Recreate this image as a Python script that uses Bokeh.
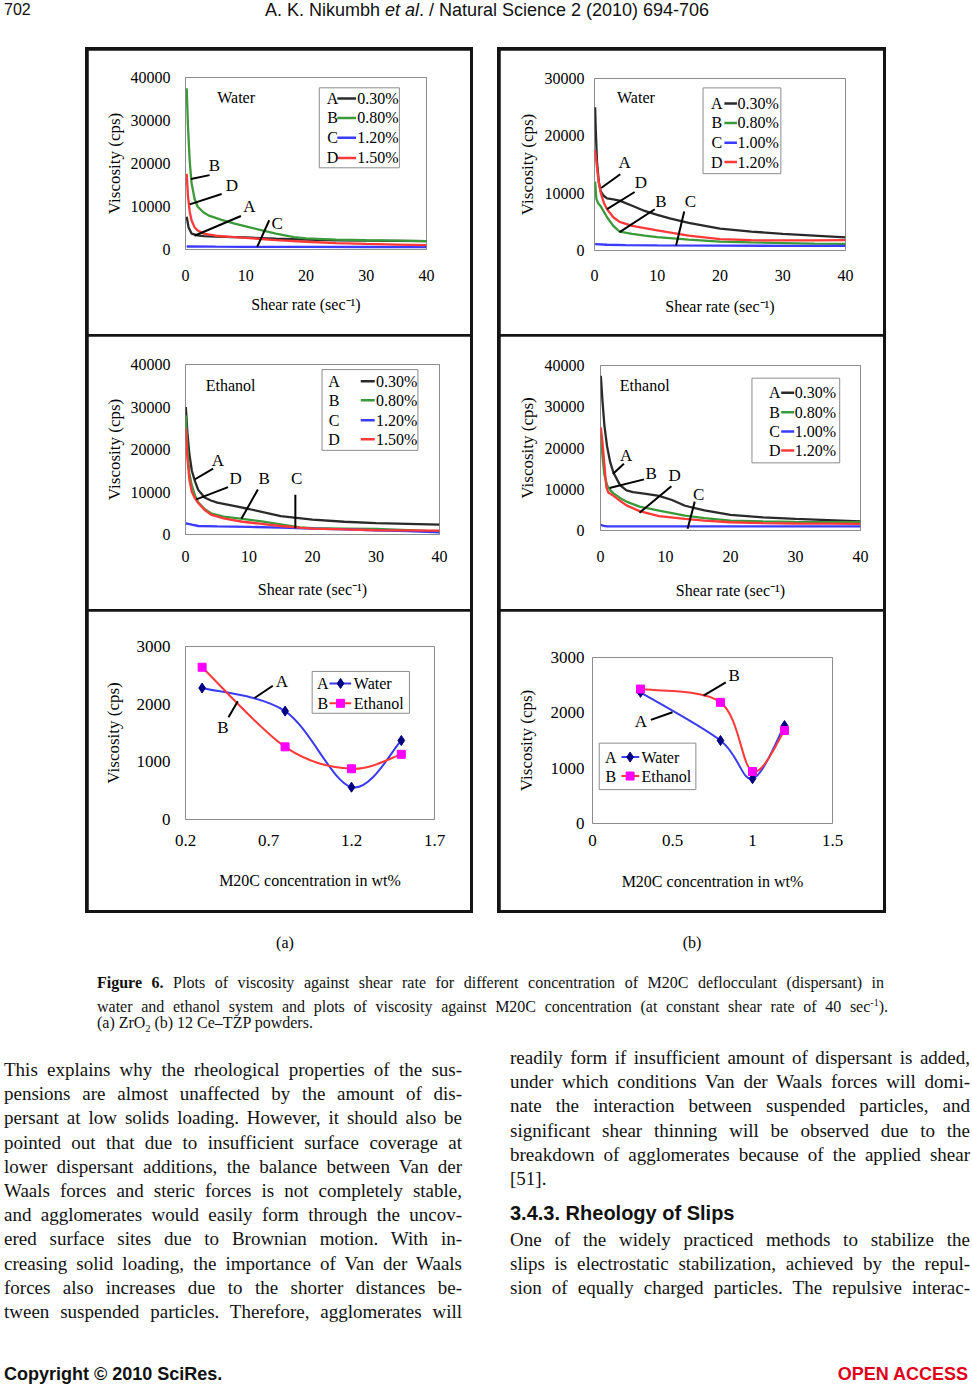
from bokeh.plotting import figure
from bokeh.layouts import column, row
from bokeh.models import Div, Spacer, Range1d, FixedTicker
from bokeh.core.properties import value
from bokeh.embed import file_html
from bokeh.resources import INLINE

SERIF = "Liberation Serif"
SANS = "Liberation Sans"

# ---------------- data ----------------
shear_ticks = [0, 10, 20, 30, 40]
shear_tick_labels = ["0", "10", "20", "30", "40"]
visc40_ticks = [0, 10000, 20000, 30000, 40000]
visc40_tick_labels = ["0", "10000", "20000", "30000", "40000"]
visc30_ticks = [0, 10000, 20000, 30000]
visc30_tick_labels = ["0", "10000", "20000", "30000"]
visc3_ticks = [0, 1000, 2000, 3000]
visc3_tick_labels = ["0", "1000", "2000", "3000"]
conc_a_ticks = [0.2, 0.7, 1.2, 1.7]
conc_a_tick_labels = ["0.2", "0.7", "1.2", "1.7"]
conc_b_ticks = [0, 0.5, 1, 1.5]
conc_b_tick_labels = ["0", "0.5", "1", "1.5"]

series_letters = ["A", "B", "C", "D"]
pct_a = ["0.30%", "0.80%", "1.20%", "1.50%"]
pct_b = ["0.30%", "0.80%", "1.00%", "1.20%"]

# (a) ZrO2 - water
p1_A_x = [0.2, 0.5, 1, 2, 3, 5, 8, 10, 15, 20, 25, 30, 35, 40]
p1_A_y = [7600, 5200, 3700, 3300, 3100, 3000, 2900, 2800, 2500, 2300, 2150, 2050, 2000, 1950]
p1_B_x = [0.2, 0.4, 0.7, 1, 1.5, 2, 3, 4, 6, 8, 10, 12, 15, 18, 20, 25, 30, 35, 40]
p1_B_y = [37500, 29000, 20500, 15500, 11800, 10000, 8600, 7800, 6900, 6100, 5400, 4700, 3700, 2900, 2600, 2300, 2150, 2050, 1950]
p1_C_x = [0.2, 5, 10, 20, 30, 40]
p1_C_y = [700, 650, 620, 600, 580, 550]
p1_D_x = [0.2, 0.4, 0.7, 1, 1.5, 2, 3, 5, 8, 10, 15, 20, 25, 30, 35, 40]
p1_D_y = [17600, 12500, 8800, 6800, 5200, 4400, 3700, 3200, 2900, 2700, 2200, 1800, 1500, 1300, 1150, 1000]

# (b) Ce-TZP - water
p2_A_x = [0.1, 0.2, 0.4, 0.7, 1, 1.5, 2, 3, 4, 6, 8, 10, 12, 15, 20, 25, 30, 35, 40]
p2_A_y = [25000, 21000, 15500, 11800, 10300, 9500, 9100, 8900, 8700, 7800, 6900, 6200, 5600, 4800, 3800, 3300, 2900, 2600, 2300]
p2_B_x = [0.1, 0.3, 0.6, 1, 2, 3, 4, 6, 8, 10, 15, 20, 25, 30, 35, 40]
p2_B_y = [12000, 9000, 8200, 7700, 5800, 4300, 3300, 2900, 2600, 2350, 1900, 1550, 1400, 1300, 1200, 1150]
p2_C_x = [0.1, 2, 5, 10, 20, 30, 40]
p2_C_y = [1100, 1000, 950, 900, 850, 820, 800]
p2_D_x = [0.1, 0.3, 0.6, 1, 1.5, 2, 3, 4, 6, 8, 10, 15, 20, 25, 30, 35, 40]
p2_D_y = [17500, 15500, 12500, 10000, 8300, 7200, 5800, 5000, 4300, 3900, 3500, 2600, 2000, 1800, 1750, 1750, 1800]

# (a) ZrO2 - ethanol
p3_A_x = [0.05, 0.3, 0.6, 1, 1.5, 2, 3, 4, 5, 8, 10, 15, 20, 25, 30, 35, 40]
p3_A_y = [30000, 24000, 19000, 15000, 12500, 10500, 8700, 8000, 7500, 6600, 6000, 4300, 3500, 3000, 2700, 2500, 2300]
p3_B_x = [0.05, 0.3, 0.6, 1, 1.5, 2, 3, 4, 6, 9, 12, 15, 18, 20, 25, 30, 35, 40]
p3_B_y = [28000, 20000, 14500, 11500, 9200, 7600, 6000, 5000, 4200, 3700, 3100, 2400, 1700, 1500, 1400, 1300, 1000, 700]
p3_C_x = [0.05, 1, 2, 5, 10, 15, 20, 25, 30, 35, 40]
p3_C_y = [2600, 2300, 2000, 1900, 1800, 1600, 1400, 1200, 1000, 800, 500]
p3_D_x = [0.05, 0.3, 0.6, 1, 1.5, 2, 3, 4, 6, 9, 12, 15, 18, 20, 25, 30, 35, 40]
p3_D_y = [25000, 18000, 13000, 10000, 8500, 7400, 5800, 4700, 3800, 3000, 2500, 2000, 1600, 1400, 1200, 1000, 950, 900]

# (b) Ce-TZP - ethanol
p4_A_x = [0.05, 0.3, 0.6, 1, 1.5, 2, 3, 4, 5, 7, 9, 11, 13, 16, 20, 25, 30, 35, 40]
p4_A_y = [37500, 31500, 25500, 20500, 16500, 14000, 11000, 9700, 9300, 8900, 8400, 7400, 6000, 4900, 3800, 3200, 2800, 2500, 2200]
p4_B_x = [0.05, 0.3, 0.6, 1, 1.5, 2, 3, 4, 6, 9, 13, 16, 20, 25, 30, 35, 40]
p4_B_y = [24000, 18000, 13500, 11000, 9800, 9000, 7900, 7000, 5800, 4800, 3600, 3000, 2400, 2200, 2100, 2050, 2000]
p4_C_x = [0.05, 0.5, 1, 5, 10, 20, 30, 40]
p4_C_y = [1400, 1100, 1000, 1000, 1000, 1000, 1000, 1000]
p4_D_x = [0.05, 0.3, 0.6, 0.9, 1.2, 2, 3, 4, 6, 9, 13, 16, 20, 25, 30, 35, 40]
p4_D_y = [25000, 21500, 16000, 10500, 9200, 8400, 7200, 6100, 4700, 3500, 2800, 2400, 2000, 1800, 1700, 1650, 1600]

# viscosity vs M20C concentration at 40 s^-1
conc_a = [0.3, 0.8, 1.2, 1.5]
water_a = [2280, 1880, 560, 1370]
ethanol_a = [2640, 1260, 880, 1130]
conc_b = [0.3, 0.8, 1.0, 1.2]
water_b = [2370, 1500, 810, 1770]
ethanol_b = [2430, 2190, 940, 1680]

# ---------------- styles ----------------
C_BLACK = "#2a2a2a"
C_GREEN = "#3a9a3a"
C_BLUE = "#3b3bff"
C_RED = "#ff3838"
SERIES_COLORS = [C_BLACK, C_GREEN, C_BLUE, C_RED]
FRAME_GRAY = "#8c8c8c"


def base_panel(w, h, g, xr, yr, xt, xtl, yt, ytl, xlab, ylab, tick_fs, xlab_fs=16, ylab_fs=17):
    p = figure(width=w, height=h, output_backend="svg", toolbar_location=None, title=None,
               x_range=Range1d(*xr), y_range=Range1d(*yr),
               min_border_left=g["l"], min_border_right=g["r"],
               min_border_top=g["t"], min_border_bottom=g["b"])
    p.margin = 0
    p.frame_align = False
    p.background_fill_color = "white"
    p.border_fill_color = "white"
    p.outline_line_color = FRAME_GRAY
    p.outline_line_width = 1
    p.grid.visible = False
    p.xaxis.ticker = FixedTicker(ticks=xt)
    p.yaxis.ticker = FixedTicker(ticks=yt)
    p.xaxis.major_label_overrides = {k: v for k, v in zip(xt, xtl)}
    p.yaxis.major_label_overrides = {k: v for k, v in zip(yt, ytl)}
    for ax in (p.xaxis, p.yaxis):
        ax.axis_line_color = None
        ax.major_tick_line_color = None
        ax.minor_tick_line_color = None
        ax.major_tick_out = 0
        ax.major_tick_in = 0
        ax.minor_tick_out = 0
        ax.minor_tick_in = 0
        ax.major_label_text_font = SERIF
        ax.major_label_text_font_size = f"{tick_fs}px"
        ax.major_label_text_color = "black"
        ax.axis_label_text_font = SERIF
        ax.axis_label_text_font_style = "normal"
        ax.axis_label_text_color = "black"
    p.xaxis.axis_label = xlab
    p.yaxis.axis_label = ylab
    p.xaxis.axis_label_text_font_size = f"{xlab_fs}px"
    p.yaxis.axis_label_text_font_size = f"{ylab_fs}px"
    wt = max(len(s) for s in ytl) * 0.5 * tick_fs
    p.yaxis.major_label_standoff = g["ytick_so"]
    p.yaxis.axis_label_standoff = max(0, round(g["ylab_gap"] - g["ytick_so"] - wt - 12))
    p.xaxis.major_label_standoff = max(0, round(g["xtick_gap"] - 0.33 * tick_fs))
    p.xaxis.axis_label_standoff = max(0, round(g["xlab_gap"] - g["xtick_gap"] - 1.06 * tick_fs))
    return p


def add_text(p, xs, ys, texts, fs, align="center", color="black"):
    p.text(x=xs, y=ys, text=texts, text_font=value(SERIF), text_font_size=value(f"{fs}px"),
           text_align=align, text_baseline="middle", text_color=color)


def add_leaders(p, leaders):
    p.segment(x0=[l[0] for l in leaders], y0=[l[1] for l in leaders],
              x1=[l[2] for l in leaders], y1=[l[3] for l in leaders],
              line_color="black", line_width=2)


def shear_panel(w, h, g, yt, ytl, series, pcts, lab, lab_pos, ann, leg):
    p = base_panel(w, h, g, (0, 40), (0, yt[-1]), shear_ticks, shear_tick_labels, yt, ytl,
                   "Shear rate (sec\u207b\u00b9)", "Viscosity (cps)", 16)
    for (xs, ys), col in zip(series, SERIES_COLORS):
        p.line(xs, ys, line_color=col, line_width=2.3)
    add_text(p, [lab_pos[0]], [lab_pos[1]], [lab], 16)
    add_leaders(p, [a[2] for a in ann])
    add_text(p, [a[1][0] for a in ann], [a[1][1] for a in ann], [a[0] for a in ann], 17)
    x0, x1, yb, yt_ = leg["box"]
    p.quad(left=[x0], right=[x1], bottom=[yb], top=[yt_], fill_color="white", line_color=FRAME_GRAY, line_width=1)
    rows = leg["rows"]
    p.segment(x0=[leg["line"][0]] * 4, x1=[leg["line"][1]] * 4, y0=rows, y1=rows,
              line_color=SERIES_COLORS, line_width=2.5)
    add_text(p, [leg["letter_x"]] * 4, rows, series_letters, 16)
    add_text(p, [leg["label_x"]] * 4, rows, pcts, 16, align="left")
    return p


def bezier_src(xs, ys):
    X = [xs[0]] + list(xs) + [xs[-1]]
    Y = [ys[0]] + list(ys) + [ys[-1]]
    d = dict(x0=[], y0=[], x1=[], y1=[], cx0=[], cy0=[], cx1=[], cy1=[])
    for i in range(len(xs) - 1):
        d["x0"].append(X[i + 1]); d["y0"].append(Y[i + 1])
        d["x1"].append(X[i + 2]); d["y1"].append(Y[i + 2])
        d["cx0"].append(X[i + 1] + (X[i + 2] - X[i]) / 6.0)
        d["cy0"].append(Y[i + 1] + (Y[i + 2] - Y[i]) / 6.0)
        d["cx1"].append(X[i + 2] - (X[i + 3] - X[i + 1]) / 6.0)
        d["cy1"].append(Y[i + 2] - (Y[i + 3] - Y[i + 1]) / 6.0)
    return d


def conc_panel(w, h, g, xr, xt, xtl, conc, water, ethanol, ann, leg):
    p = base_panel(w, h, g, xr, (0, 3000), xt, xtl, visc3_ticks, visc3_tick_labels,
                   "M20C concentration in wt%", "Viscosity (cps)", 17)
    p.bezier(line_color="#3b3bef", line_width=2, **bezier_src(conc, water))
    p.scatter(conc, water, marker="diamond", size=10, fill_color="#000080", line_color="#000080")
    p.bezier(line_color="#ff3838", line_width=2, **bezier_src(conc, ethanol))
    p.scatter(conc, ethanol, marker="square", size=8, fill_color="#ff00ff", line_color="#ff00ff")
    add_leaders(p, [a[2] for a in ann])
    add_text(p, [a[1][0] for a in ann], [a[1][1] for a in ann], [a[0] for a in ann], 17)
    x0, x1, yb, yt_ = leg["box"]
    p.quad(left=[x0], right=[x1], bottom=[yb], top=[yt_], fill_color="white", line_color=FRAME_GRAY, line_width=1)
    rows = leg["rows"]
    p.segment(x0=[leg["line"][0]] * 2, x1=[leg["line"][1]] * 2, y0=rows, y1=rows,
              line_color=["#3b3bef", "#ff3838"], line_width=2)
    p.scatter([leg["mark_x"]], [rows[0]], marker="diamond", size=10, fill_color="#000080", line_color="#000080")
    p.scatter([leg["mark_x"]], [rows[1]], marker="square", size=8, fill_color="#ff00ff", line_color="#ff00ff")
    add_text(p, [leg["letter_x"]] * 2, rows, ["A", "B"], 16)
    add_text(p, [leg["label_x"]] * 2, rows, ["Water", "Ethanol"], 16, align="left")
    return p


G1 = dict(l=97, r=44, t=27, b=85, ytick_so=15, ylab_gap=71, xtick_gap=25, xlab_gap=54)
G2 = dict(l=94, r=38, t=28, b=84, ytick_so=10, ylab_gap=67, xtick_gap=24, xlab_gap=55)
G3 = dict(l=97, r=31, t=28, b=75, ytick_so=15, ylab_gap=71, xtick_gap=21, xlab_gap=54)
G4 = dict(l=100, r=23, t=29, b=79, ytick_so=16, ylab_gap=73, xtick_gap=25, xlab_gap=59)
G5 = dict(l=97, r=36, t=35, b=91, ytick_so=15, ylab_gap=72, xtick_gap=21, xlab_gap=62)
G6 = dict(l=92, r=51, t=46, b=87, ytick_so=8, ylab_gap=66, xtick_gap=17, xlab_gap=59)

fig1 = shear_panel(382, 284, G1, visc40_ticks, visc40_tick_labels,
                   [(p1_A_x, p1_A_y), (p1_B_x, p1_B_y), (p1_C_x, p1_C_y), (p1_D_x, p1_D_y)], pct_a,
                   "Water", (8.4, 35300),
                   [("B", (4.8, 19600), (0.9, 16400, 4.0, 17300)),
                    ("D", (7.7, 14800), (0.7, 10500, 6.0, 12900)),
                    ("A", (10.6, 10100), (1.5, 3200, 9.2, 7800)),
                    ("C", (15.2, 6100), (11.9, 600, 13.9, 6800))],
                   dict(box=(22.2, 35.5, 19000, 37600), rows=[35100, 30600, 26000, 21300],
                        letter_x=24.4, line=(25.2, 28.3), label_x=28.5))

fig2 = shear_panel(383, 284, G2, visc30_ticks, visc30_tick_labels,
                   [(p2_A_x, p2_A_y), (p2_B_x, p2_B_y), (p2_C_x, p2_C_y), (p2_D_x, p2_D_y)], pct_b,
                   "Water", (6.6, 26600),
                   [("A", (4.8, 15300), (1.06, 10900, 4.1, 13300)),
                    ("D", (7.4, 11800), (2.0, 7200, 6.4, 10200)),
                    ("B", (10.6, 8600), (4.0, 3200, 9.6, 7200)),
                    ("C", (15.3, 8600), (13.0, 870, 14.3, 6800))],
                   dict(box=(17.3, 29.7, 13400, 28360), rows=[25630, 22250, 18810, 15430],
                        letter_x=19.5, line=(20.7, 22.7), label_x=22.8))

fig3 = shear_panel(382, 273, G3, visc40_ticks, visc40_tick_labels,
                   [(p3_A_x, p3_A_y), (p3_B_x, p3_B_y), (p3_C_x, p3_C_y), (p3_D_x, p3_D_y)], pct_a,
                   "Ethanol", (7.1, 35100),
                   [("A", (5.1, 17400), (1.5, 13000, 4.35, 15500)),
                    ("D", (7.9, 13100), (1.7, 8250, 6.7, 11150)),
                    ("B", (12.4, 13100), (8.8, 3700, 11.4, 10600)),
                    ("C", (17.5, 13100), (17.3, 1500, 17.3, 9350))],
                   dict(box=(21.5, 36.6, 19800, 38800), rows=[36060, 31580, 26870, 22390],
                        letter_x=23.4, line=(27.6, 29.8), label_x=30.0))

fig4 = shear_panel(383, 273, G4, visc40_ticks, visc40_tick_labels,
                   [(p4_A_x, p4_A_y), (p4_B_x, p4_B_y), (p4_C_x, p4_C_y), (p4_D_x, p4_D_y)], pct_b,
                   "Ethanol", (6.8, 35150),
                   [("A", (3.95, 18200), (1.9, 13700, 3.6, 16200)),
                    ("B", (7.8, 13700), (1.4, 10300, 6.7, 12400)),
                    ("D", (11.4, 13300), (6.0, 4300, 10.9, 10750)),
                    ("C", (15.1, 8650), (13.4, 400, 14.5, 7000))],
                   dict(box=(23.3, 36.8, 16400, 36930), rows=[33370, 28690, 24000, 19390],
                        letter_x=26.8, line=(27.8, 29.8), label_x=29.9))

fig5 = conc_panel(382, 299, G5, (0.2, 1.7), conc_a_ticks, conc_a_tick_labels, conc_a, water_a, ethanol_a,
                  [("A", (0.78, 2400), (0.616, 2107, 0.726, 2320)),
                   ("B", (0.425, 1590), (0.459, 1773, 0.515, 2050))],
                  dict(box=(0.963, 1.549, 1842, 2568), rows=[2360, 2015], letter_x=1.027,
                       line=(1.067, 1.198), mark_x=1.134, label_x=1.214))

fig6 = conc_panel(383, 299, G6, (0, 1.5), conc_b_ticks, conc_b_tick_labels, conc_b, water_b, ethanol_b,
                  [("B", (0.885, 2670), (0.694, 2310, 0.833, 2550)),
                   ("A", (0.302, 1842), (0.365, 1872, 0.5, 2010))],
                  dict(box=(0.042, 0.646, 612, 1452), rows=[1200, 858], letter_x=0.115,
                       line=(0.181, 0.292), mark_x=0.235, label_x=0.306))

BOX_STYLE = {"border": "3px solid #141414", "background-color": "#141414"}
left_col = column(fig1, fig3, fig5, spacing=2, styles=BOX_STYLE)
right_col = column(fig2, fig4, fig6, spacing=2, styles=BOX_STYLE)
boxes = row(Spacer(width=85, height=10, margin=0), left_col, Spacer(width=24, height=10, margin=0), right_col,
            spacing=0)

header_html = (
    '<div style="position:relative;width:972px;height:47px;font-family:\'Liberation Sans\';color:#111;">'
    '<span style="position:absolute;left:4px;top:1px;font-size:16px;line-height:18px;">702</span>'
    '<span style="position:absolute;left:487px;top:0px;transform:translateX(-50%);font-size:18px;'
    'line-height:20px;white-space:nowrap;">A. K. Nikumbh <i>et al</i>. / Natural Science 2 (2010) 694-706</span>'
    '</div>'
)
header = Div(text=header_html, width=972, height=47, margin=0)

left_lines = [
    "This explains why the rheological properties of the sus-",
    "pensions are almost unaffected by the amount of dis-",
    "persant at low solids loading. However, it should also be",
    "pointed out that due to insufficient surface coverage at",
    "lower dispersant additions, the balance between Van der",
    "Waals forces and steric forces is not completely stable,",
    "and agglomerates would easily form through the uncov-",
    "ered surface sites due to Brownian motion. With in-",
    "creasing solid loading, the importance of Van der Waals",
    "forces also increases due to the shorter distances be-",
    "tween suspended particles. Therefore, agglomerates will",
]
right_lines_1 = [
    "readily form if insufficient amount of dispersant is added,",
    "under which conditions Van der Waals forces will domi-",
    "nate the interaction between suspended particles, and",
    "significant shear thinning will be observed due to the",
    "breakdown of agglomerates because of the applied shear",
]
right_lines_2 = [
    "One of the widely practiced methods to stabilize the",
    "slips is electrostatic stabilization, achieved by the repul-",
    "sion of equally charged particles. The repulsive interac-",
]

JL = "text-align:justify;text-align-last:justify;height:24.2px;"


def block(lines, left, top, width, last_plain=None):
    s = (f'<div style="position:absolute;left:{left}px;top:{top}px;width:{width}px;'
         f'font-family:\'Liberation Serif\';font-size:19px;line-height:24.2px;color:#111;">')
    for ln in lines:
        s += f'<div style="{JL}">{ln}</div>'
    if last_plain:
        s += f'<div style="height:24.2px;">{last_plain}</div>'
    return s + '</div>'


CAP = "position:absolute;left:97px;font-family:'Liberation Serif';font-size:16px;line-height:20px;color:#111;"
bottom_html = (
    '<div style="position:relative;width:972px;height:475px;">'
    '<span style="position:absolute;left:285px;top:20px;transform:translateX(-50%);font-family:\'Liberation Serif\';'
    'font-size:16px;line-height:20px;">(a)</span>'
    '<span style="position:absolute;left:692px;top:20px;transform:translateX(-50%);font-family:\'Liberation Serif\';'
    'font-size:16px;line-height:20px;">(b)</span>'
    f'<div style="{CAP}top:60px;width:787px;text-align:justify;text-align-last:justify;">'
    '<b>Figure 6.</b> Plots of viscosity against shear rate for different concentration of M20C deflocculant '
    '(dispersant) in</div>'
    f'<div style="{CAP}top:80px;width:791px;text-align:justify;text-align-last:justify;">'
    'water and ethanol system and plots of viscosity against M20C concentration (at constant shear rate of 40 '
    'sec<sup style="font-size:10px;">-1</sup>).</div>'
    f'<div style="{CAP}top:100px;">(a) ZrO<sub style="font-size:10px;">2</sub> (b) 12 Ce\u2013TZP powders.</div>'
    + block(left_lines, 4, 145, 458)
    + block(right_lines_1, 510, 133, 460, last_plain="[51].")
    + '<div style="position:absolute;left:510px;top:289px;font-family:\'Liberation Sans\';font-weight:bold;'
      'font-size:20px;line-height:22px;color:#111;white-space:nowrap;">3.4.3. Rheology of Slips</div>'
    + block(right_lines_2, 510, 315, 460)
    + '<div style="position:absolute;left:4px;top:451px;font-family:\'Liberation Sans\';font-weight:bold;'
      'font-size:18px;line-height:20px;color:#111;white-space:nowrap;">Copyright \u00a9 2010 SciRes.</div>'
    + '<div style="position:absolute;right:4px;top:451px;font-family:\'Liberation Sans\';font-weight:bold;'
      'font-size:18px;line-height:20px;color:#e0001a;white-space:nowrap;">OPEN ACCESS</div>'
    + '</div>'
)
bottom = Div(text=bottom_html, width=972, height=475, margin=0)

root = column(header, boxes, bottom, spacing=0)

with open("out.html", "w") as f:
    f.write(file_html(root, INLINE, title="Figure 6"))
